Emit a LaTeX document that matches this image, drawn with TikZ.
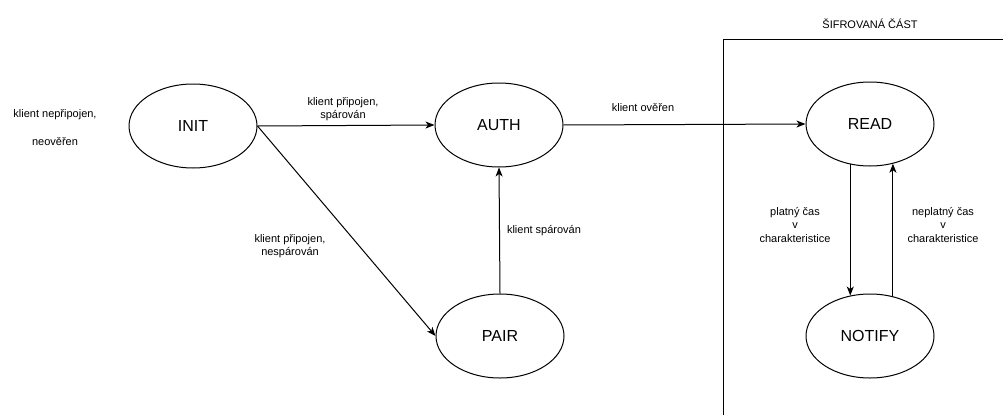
\documentclass[tikz,border=0pt]{standalone}
\usepackage{fontspec}
\setmainfont{Liberation Sans}
\usepackage{tikz}
\usetikzlibrary{positioning,shapes.geometric,arrows.meta}

\begin{document}
\begin{tikzpicture}[x=1pt,y=-1pt,line width=1pt,
  state/.style={ellipse,draw,minimum width=128pt,minimum height=84pt,inner sep=0pt,font=\fontsize{16}{19}\selectfont},
  lbl/.style={align=center,inner sep=0pt,font=\fontsize{11}{13.5}\selectfont},
  flow/.style={-{Stealth[length=9pt,width=7pt,inset=2.5pt]}}]
\useasboundingbox (0,0) rectangle (1003,415);

\draw (723,415) -- (723,39) -- (1003,39);
\node[lbl] (title) at (870,24) {ŠIFROVANÁ ČÁST};

\node[state] (init) at (193,126) {INIT};
\node[state] (auth) at (499,125) {AUTH};
\node[state] (pair) at (500,336) {PAIR};
\node[state] (read) at (870,124) {READ};
\node[state] (notify) at (870,336) {NOTIFY};

\draw[flow] (init.east) -- (auth.west);
\draw[flow] (auth.east) -- (read.west);
\draw[flow] (init.east) -- (pair.west);
\draw[flow] (pair.north) -- (auth.south);
\draw[flow] (read.244) -- (notify.116);
\draw[flow] (notify.60) -- (read.300);

\node[lbl] (idle) at (55,127.5) {klient nepřipojen,\\[15pt]neověřen};
\node[lbl] (paired) at (343,109) {klient připojen,\\spárován};
\node[lbl] (verified) at (643,108) {klient ověřen};
\node[lbl] (unpaired) at (290,246) {klient připojen,\\nespárován};
\node[lbl] (pairok) at (544,231) {klient spárován};
\node[lbl] (valid) at (795,225) {platný čas\\v\\charakteristice};
\node[lbl] (invalid) at (943,225) {neplatný čas\\v\\charakteristice};

\end{tikzpicture}
\end{document}
